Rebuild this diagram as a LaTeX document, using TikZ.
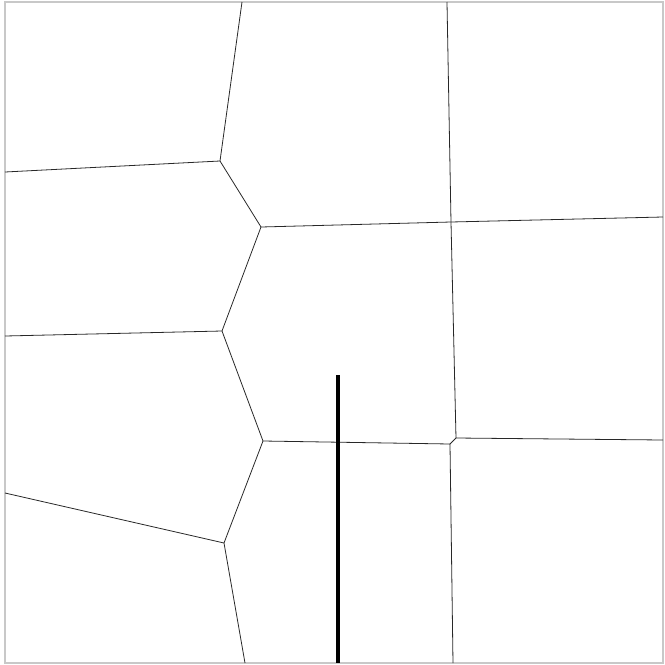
\documentclass[tikz,border=0pt]{standalone}
\usepackage{xcolor}
\usepackage{tikz}
\definecolor{framegray}{RGB}{200, 200, 200}
\definecolor{celledge}{RGB}{40, 40, 40}

\begin{document}
\begin{tikzpicture}[x=1pt, y=-1pt,
  cell/.style={draw=celledge, line width=0.8pt},
  marker/.style={draw=black, line width=4pt}]
\useasboundingbox (0,0) rectangle (665,665);
% Frame of the cell plot
\draw[framegray, line width=1.2pt] (5,2) rectangle (663,663);

% Cell corners
\coordinate (vA) at (220,161);
\coordinate (vB) at (261,227);
\coordinate (vC) at (451,222);
\coordinate (vD) at (222,331);
\coordinate (vE) at (263,441);
\coordinate (vF) at (456,438);
\coordinate (vG) at (450,444);
\coordinate (vH) at (224,543);

% Ends on the frame
\coordinate (topA) at (242,2);
\coordinate (topC) at (447,2);
\coordinate (leftA) at (5,172);
\coordinate (leftD) at (5,336);
\coordinate (leftH) at (5,493);
\coordinate (rightC) at (663,217);
\coordinate (rightF) at (663,440);
\coordinate (botH) at (245,663);
\coordinate (botG) at (453,663);

% Cell edges
\draw[cell] (topA) -- (vA) -- (vB) -- (vC) -- (rightC);
\draw[cell] (leftA) -- (vA);
\draw[cell] (topC) -- (vC) -- (vF) -- (rightF);
\draw[cell] (vB) -- (vD) -- (vE) -- (vG) -- (botG);
\draw[cell] (vF) -- (vG);
\draw[cell] (leftD) -- (vD);
\draw[cell] (vE) -- (vH) -- (botH);
\draw[cell] (leftH) -- (vH);

% Thick bar
\coordinate (barTop) at (338,375);
\coordinate (barBot) at (338,663);
\draw[marker] (barTop) -- (barBot);
\end{tikzpicture}
\end{document}
